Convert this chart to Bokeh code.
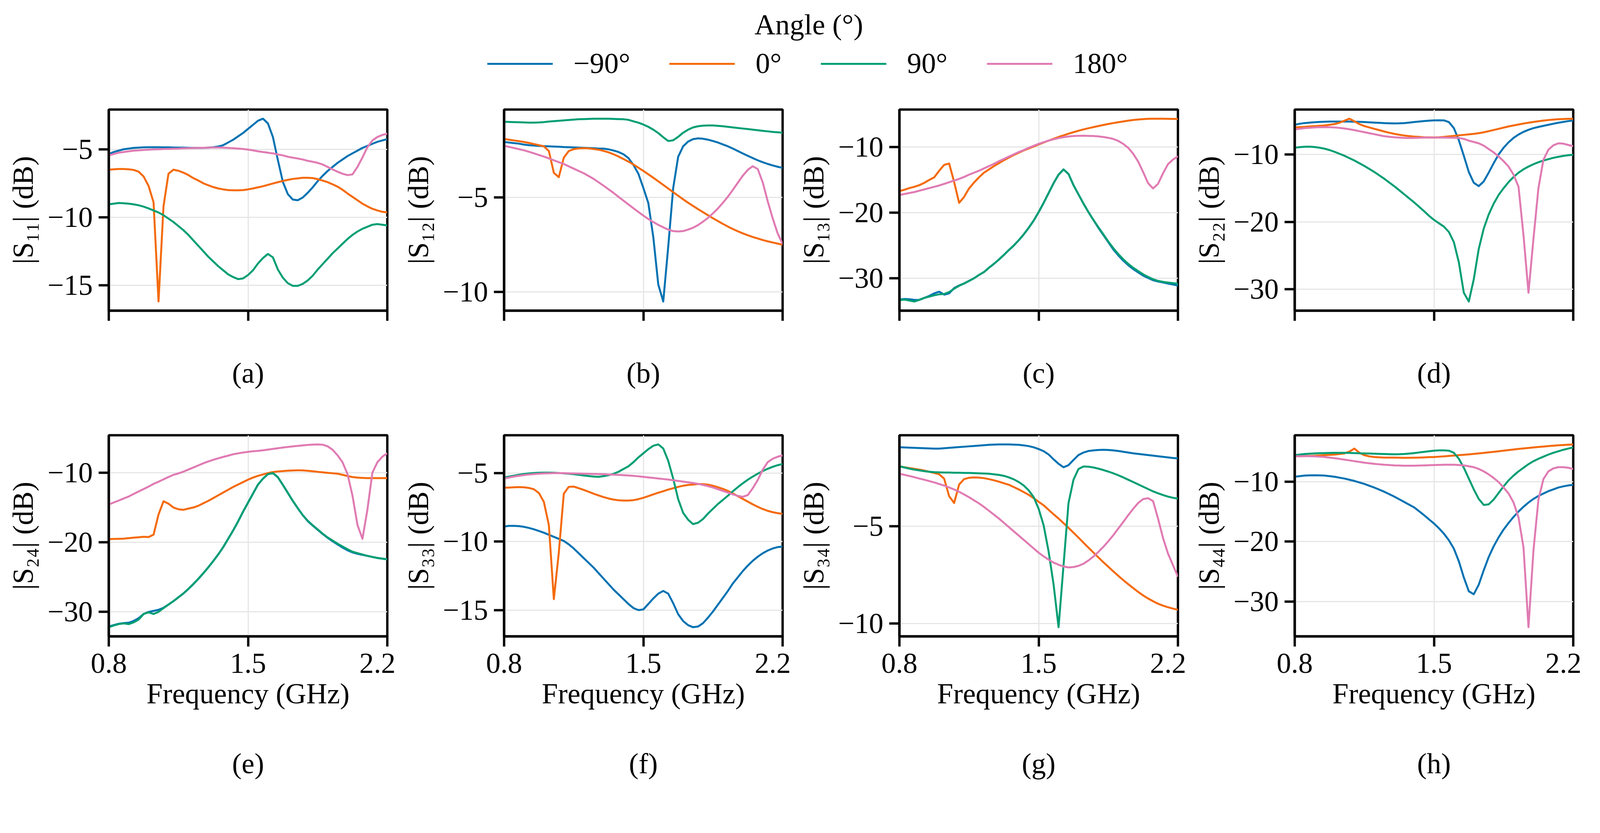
from bokeh.embed import file_html
from bokeh.layouts import column, row
from bokeh.models import FixedTicker, Label, Legend, LegendItem, Range1d
from bokeh.plotting import figure
from bokeh.resources import INLINE

# the page shows up about 5% larger than its CSS size, so every size below
# is given in screenshot pixels and scaled down once here
SCALE = 0.953


def px(v):
    return int(round(v * SCALE))


FONT = "Liberation Serif"
FONT_SIZE = "%dpx" % px(78)

# Frequency grid (GHz) shared by every curve
FREQ = [0.8, 0.825, 0.85, 0.875, 0.9, 0.925, 0.95, 0.975, 1.0, 1.025,
        1.05, 1.075, 1.1, 1.125, 1.15, 1.175, 1.2, 1.225, 1.25, 1.275,
        1.3, 1.325, 1.35, 1.375, 1.4, 1.425, 1.45, 1.475, 1.5, 1.525,
        1.55, 1.575, 1.6, 1.625, 1.65, 1.675, 1.7, 1.725, 1.75, 1.775,
        1.8, 1.825, 1.85, 1.875, 1.9, 1.925, 1.95, 1.975, 2.0, 2.025,
        2.05, 2.075, 2.1, 2.125, 2.15, 2.175, 2.2]

# |S11| (dB)
S11_M90 = [-5.35, -5.2, -5.1, -5.0, -4.95, -4.9, -4.88, -4.86, -4.85, -4.85,
           -4.85, -4.86, -4.86, -4.87, -4.88, -4.88, -4.89, -4.9, -4.9, -4.9,
           -4.88, -4.85, -4.8, -4.7, -4.5, -4.3, -4.05, -3.8, -3.5, -3.2,
           -2.9, -2.75, -3.1, -4.1, -5.8, -7.4, -8.3, -8.7, -8.75, -8.55,
           -8.2, -7.8, -7.35, -6.95, -6.6, -6.3, -6.0, -5.75, -5.5, -5.3,
           -5.1, -4.9, -4.75, -4.6, -4.45, -4.35, -4.25]
S11_0 = [-6.5, -6.47, -6.45, -6.45, -6.47, -6.52, -6.65, -7.0, -7.7, -8.9,
         -16.2, -9.2, -6.8, -6.5, -6.58, -6.72, -6.9, -7.12, -7.3, -7.5,
         -7.65, -7.78, -7.88, -7.95, -8.0, -8.02, -8.02, -8.0, -7.95, -7.88,
         -7.8, -7.72, -7.62, -7.52, -7.42, -7.33, -7.25, -7.18, -7.14, -7.1,
         -7.1, -7.12, -7.2, -7.3, -7.42, -7.58, -7.75, -7.98, -8.25, -8.5,
         -8.75, -9.0, -9.2, -9.38, -9.5, -9.6, -9.65]
S11_90 = [-9.05, -9.0, -8.95, -8.97, -9.0, -9.05, -9.12, -9.22, -9.35, -9.5,
          -9.65, -9.85, -10.1, -10.35, -10.65, -10.95, -11.3, -11.7, -12.1, -12.5,
          -12.9, -13.25, -13.6, -13.9, -14.2, -14.4, -14.55, -14.5, -14.25, -13.9,
          -13.4, -13.0, -12.7, -12.95, -13.85, -14.45, -14.85, -15.05, -15.05, -14.9,
          -14.65, -14.3, -13.85, -13.45, -13.05, -12.65, -12.3, -11.95, -11.6, -11.3,
          -11.05, -10.85, -10.7, -10.55, -10.5, -10.55, -10.6]
S11_180 = [-5.45, -5.35, -5.25, -5.2, -5.15, -5.1, -5.08, -5.05, -5.03, -5.01,
           -5.0, -4.98, -4.97, -4.96, -4.95, -4.93, -4.92, -4.91, -4.9, -4.89,
           -4.88, -4.87, -4.87, -4.88, -4.9, -4.92, -4.95, -4.98, -5.02, -5.08,
           -5.15, -5.2, -5.25, -5.3, -5.38, -5.45, -5.55, -5.62, -5.68, -5.75,
           -5.85, -5.92, -6.0, -6.12, -6.3, -6.48, -6.65, -6.8, -6.9, -6.85,
           -6.3, -5.6, -4.85, -4.35, -4.1, -3.95, -3.85]

# |S12| (dB)
S12_M90 = [-2.07, -2.1, -2.13, -2.16, -2.21, -2.24, -2.26, -2.28, -2.29, -2.3,
           -2.31, -2.32, -2.34, -2.35, -2.36, -2.37, -2.38, -2.39, -2.4, -2.42,
           -2.42, -2.46, -2.52, -2.6, -2.72, -2.92, -3.28, -3.75, -4.5, -5.3,
           -7.1, -9.6, -10.5, -7.6, -4.5, -2.85, -2.3, -2.05, -1.92, -1.88,
           -1.9, -1.95, -2.02, -2.1, -2.2, -2.3, -2.42, -2.55, -2.68, -2.8,
           -2.92, -3.04, -3.14, -3.23, -3.31, -3.38, -3.44]
S12_0 = [-1.91, -1.95, -1.99, -2.03, -2.07, -2.12, -2.18, -2.24, -2.3, -2.55,
         -3.7, -3.93, -2.9, -2.55, -2.45, -2.41, -2.4, -2.41, -2.44, -2.48,
         -2.54, -2.62, -2.72, -2.84, -2.97, -3.11, -3.26, -3.43, -3.6, -3.78,
         -3.96, -4.15, -4.34, -4.53, -4.72, -4.91, -5.1, -5.28, -5.45, -5.62,
         -5.78, -5.94, -6.1, -6.25, -6.4, -6.54, -6.67, -6.79, -6.9, -7.0,
         -7.09, -7.17, -7.25, -7.32, -7.38, -7.44, -7.5]
S12_90 = [-1.0, -1.01, -1.02, -1.03, -1.04, -1.05, -1.05, -1.04, -1.02, -0.99,
          -0.97, -0.95, -0.93, -0.91, -0.89, -0.87, -0.86, -0.85, -0.84, -0.84,
          -0.84, -0.84, -0.85, -0.86, -0.87, -0.9, -0.98, -1.05, -1.15, -1.27,
          -1.42, -1.6, -1.82, -2.02, -1.98, -1.8, -1.58, -1.42, -1.3, -1.24,
          -1.21, -1.2, -1.2, -1.22, -1.24, -1.27, -1.3, -1.33, -1.36, -1.39,
          -1.42, -1.45, -1.48, -1.51, -1.54, -1.56, -1.58]
S12_180 = [-2.27, -2.33, -2.39, -2.45, -2.51, -2.59, -2.67, -2.76, -2.84, -2.94,
           -3.04, -3.14, -3.23, -3.36, -3.48, -3.6, -3.72, -3.87, -4.02, -4.2,
           -4.38, -4.57, -4.76, -4.97, -5.17, -5.37, -5.57, -5.77, -5.96, -6.14,
           -6.3, -6.45, -6.58, -6.7, -6.78, -6.8, -6.78, -6.7, -6.6, -6.46,
           -6.28, -6.08, -5.84, -5.58, -5.28, -4.96, -4.6, -4.22, -3.85, -3.54,
           -3.35, -3.5, -4.2, -5.2, -6.1, -6.9, -7.45]

# |S13| (dB)
S13_M90 = [-33.25, -33.15, -33.2, -33.3, -33.3, -33.0, -32.7, -32.3, -32.05, -32.5,
           -32.3, -31.5, -31.1, -30.8, -30.4, -30.0, -29.5, -29.05, -28.4, -27.8,
           -27.15, -26.45, -25.7, -25.0, -24.2, -23.3, -22.3, -21.2, -19.9, -18.5,
           -17.0, -15.5, -14.2, -13.4, -14.1, -15.8, -17.2, -18.6, -19.9, -21.1,
           -22.3, -23.4, -24.5, -25.6, -26.5, -27.3, -28.0, -28.6, -29.1, -29.6,
           -29.95, -30.3, -30.5, -30.65, -30.8, -30.95, -31.1]
S13_0 = [-16.7, -16.5, -16.25, -16.05, -15.8, -15.45, -15.0, -14.6, -13.6, -12.7,
         -12.5, -15.3, -18.5, -17.6, -16.3, -15.4, -14.6, -13.9, -13.4, -12.9,
         -12.45, -12.0, -11.6, -11.2, -10.85, -10.5, -10.2, -9.9, -9.6, -9.3,
         -9.0, -8.72, -8.45, -8.2, -7.95, -7.72, -7.5, -7.3, -7.12, -6.95,
         -6.78, -6.62, -6.47, -6.33, -6.2, -6.08, -5.96, -5.86, -5.78, -5.72,
         -5.68, -5.66, -5.66, -5.67, -5.68, -5.69, -5.7]
S13_90 = [-33.35, -33.25, -33.4, -33.55, -33.3, -33.0, -32.8, -32.6, -32.45, -32.4,
          -32.1, -31.6, -31.15, -30.8, -30.4, -30.0, -29.5, -29.05, -28.4, -27.8,
          -27.15, -26.45, -25.7, -25.0, -24.2, -23.3, -22.3, -21.2, -19.9, -18.5,
          -17.0, -15.5, -14.2, -13.4, -14.1, -15.8, -17.2, -18.6, -19.9, -21.1,
          -22.2, -23.3, -24.4, -25.4, -26.3, -27.1, -27.8, -28.4, -28.9, -29.4,
          -29.8, -30.15, -30.4, -30.55, -30.65, -30.75, -30.85]
S13_180 = [-17.3, -17.15, -17.0, -16.85, -16.65, -16.45, -16.25, -16.05, -15.85, -15.6,
           -15.35, -15.1, -14.85, -14.55, -14.2, -13.9, -13.6, -13.25, -12.9, -12.55,
           -12.15, -11.8, -11.45, -11.1, -10.75, -10.45, -10.1, -9.8, -9.5, -9.25,
           -9.0, -8.8, -8.62, -8.48, -8.38, -8.3, -8.27, -8.26, -8.28, -8.3,
           -8.36, -8.45, -8.58, -8.75, -9.05, -9.5, -10.1, -11.0, -12.2, -13.8,
           -15.5, -16.3, -15.6, -14.0, -12.6, -11.9, -11.4]

# |S22| (dB)
S22_M90 = [-5.6, -5.45, -5.35, -5.28, -5.22, -5.18, -5.15, -5.13, -5.12, -5.12,
           -5.12, -5.13, -5.15, -5.17, -5.2, -5.24, -5.28, -5.32, -5.36, -5.38,
           -5.4, -5.39, -5.35, -5.28, -5.2, -5.12, -5.05, -5.0, -4.95, -4.93,
           -4.95, -5.2, -6.1, -7.9, -10.2, -12.6, -14.2, -14.7, -14.0, -12.7,
           -11.3, -10.0, -9.0, -8.2, -7.55, -7.05, -6.65, -6.35, -6.1, -5.92,
           -5.76, -5.6, -5.45, -5.3, -5.18, -5.06, -4.96]
S22_0 = [-6.0, -5.95, -5.9, -5.85, -5.8, -5.75, -5.7, -5.6, -5.5, -5.3,
         -5.0, -4.7, -5.1, -5.5, -5.8, -6.0, -6.2, -6.4, -6.6, -6.78,
         -6.95, -7.08, -7.2, -7.28, -7.35, -7.4, -7.45, -7.47, -7.48, -7.45,
         -7.4, -7.33, -7.25, -7.17, -7.1, -7.02, -6.95, -6.85, -6.72, -6.55,
         -6.38, -6.2, -6.02, -5.85, -5.7, -5.56, -5.42, -5.3, -5.18, -5.08,
         -4.98, -4.9, -4.83, -4.78, -4.75, -4.72, -4.7]
S22_90 = [-9.0, -8.92, -8.86, -8.85, -8.9, -9.0, -9.15, -9.35, -9.6, -9.9,
          -10.2, -10.55, -10.9, -11.3, -11.7, -12.15, -12.6, -13.1, -13.6, -14.15,
          -14.7, -15.3, -15.9, -16.5, -17.1, -17.75, -18.4, -19.1, -19.7, -20.2,
          -20.7, -21.5, -23.0, -26.0, -30.5, -31.8, -28.5, -24.0, -21.0, -18.9,
          -17.3, -16.0, -15.0, -14.1, -13.35, -12.7, -12.2, -11.8, -11.45, -11.15,
          -10.9, -10.7, -10.5, -10.35, -10.22, -10.12, -10.05]
S22_180 = [-6.3, -6.2, -6.1, -6.05, -6.0, -5.97, -5.95, -5.96, -6.0, -6.07,
           -6.15, -6.27, -6.4, -6.55, -6.7, -6.85, -7.0, -7.15, -7.3, -7.38,
           -7.45, -7.5, -7.55, -7.56, -7.55, -7.53, -7.5, -7.5, -7.5, -7.5,
           -7.5, -7.51, -7.52, -7.55, -7.7, -7.95, -8.15, -8.35, -8.7, -9.2,
           -9.7, -10.3, -11.0, -11.8, -13.0, -14.8, -22.0, -30.5, -22.5, -15.0,
           -10.8, -9.3, -8.65, -8.35, -8.4, -8.6, -8.77]

# |S24| (dB)
S24_M90 = [-32.1, -31.9, -31.7, -31.6, -31.55, -31.3, -30.9, -30.3, -30.0, -29.85,
           -29.7, -29.4, -28.95, -28.45, -27.9, -27.35, -26.7, -26.0, -25.25, -24.45,
           -23.6, -22.7, -21.75, -20.7, -19.5, -18.3, -17.0, -15.6, -14.3, -13.0,
           -11.7, -10.85, -10.2, -10.05, -10.65, -11.75, -12.9, -14.05, -15.1, -16.1,
           -16.95, -17.6, -18.2, -18.8, -19.35, -19.85, -20.3, -20.75, -21.15, -21.45,
           -21.65, -21.8, -21.95, -22.1, -22.25, -22.35, -22.45]
S24_0 = [-19.54, -19.52, -19.5, -19.47, -19.4, -19.33, -19.27, -19.2, -19.25, -18.9,
         -16.0, -14.1, -14.45, -15.0, -15.25, -15.33, -15.15, -15.0, -14.75, -14.4,
         -14.05, -13.65, -13.25, -12.85, -12.45, -12.05, -11.7, -11.35, -11.0, -10.7,
         -10.45, -10.25, -10.05, -9.9, -9.82, -9.76, -9.71, -9.68, -9.65, -9.66,
         -9.72, -9.79, -9.87, -9.95, -10.02, -10.08, -10.14, -10.3, -10.48, -10.62,
         -10.7, -10.74, -10.77, -10.78, -10.78, -10.78, -10.78]
S24_90 = [-32.2, -31.95, -31.75, -31.65, -31.75, -31.5, -31.1, -30.3, -30.05, -30.3,
          -30.0, -29.45, -28.95, -28.45, -27.9, -27.35, -26.7, -26.0, -25.25, -24.45,
          -23.6, -22.7, -21.75, -20.7, -19.5, -18.3, -17.0, -15.6, -14.3, -13.0,
          -11.7, -10.85, -10.2, -10.05, -10.65, -11.75, -12.9, -14.05, -15.1, -16.1,
          -16.9, -17.55, -18.15, -18.75, -19.3, -19.75, -20.2, -20.6, -21.0, -21.35,
          -21.55, -21.75, -21.95, -22.1, -22.25, -22.35, -22.45]
S24_180 = [-14.56, -14.28, -14.0, -13.7, -13.42, -13.05, -12.7, -12.35, -12.0, -11.6,
           -11.3, -10.95, -10.62, -10.3, -10.1, -9.85, -9.55, -9.25, -8.95, -8.65,
           -8.38, -8.15, -7.93, -7.73, -7.55, -7.35, -7.22, -7.1, -7.0, -6.92,
           -6.86, -6.78, -6.68, -6.58, -6.48, -6.38, -6.3, -6.22, -6.14, -6.07,
           -6.01, -5.96, -5.93, -5.97, -6.21, -6.7, -7.5, -8.5, -10.2, -13.3,
           -17.5, -19.5, -15.3, -10.0, -8.5, -7.7, -7.2]

# |S33| (dB)
S33_M90 = [-8.9, -8.85, -8.85, -8.87, -8.92, -9.0, -9.1, -9.22, -9.35, -9.5,
           -9.65, -9.8, -9.95, -10.2, -10.5, -10.85, -11.2, -11.55, -11.9, -12.3,
           -12.7, -13.1, -13.5, -13.85, -14.2, -14.55, -14.85, -15.0, -14.95, -14.55,
           -14.15, -13.8, -13.6, -13.8, -14.5, -15.3, -15.8, -16.1, -16.25, -16.2,
           -15.95, -15.55, -15.1, -14.6, -14.1, -13.6, -13.05, -12.6, -12.15, -11.75,
           -11.4, -11.1, -10.85, -10.65, -10.5, -10.4, -10.36]
S33_0 = [-6.07, -6.05, -6.03, -6.02, -6.03, -6.08, -6.18, -6.45, -7.1, -8.8,
         -14.2, -10.8, -6.5, -6.0, -5.98, -6.1, -6.22, -6.36, -6.5, -6.63,
         -6.75, -6.85, -6.93, -6.98, -7.0, -7.0, -6.97, -6.9, -6.8, -6.68,
         -6.55, -6.43, -6.32, -6.2, -6.1, -6.0, -5.92, -5.86, -5.83, -5.8,
         -5.8, -5.84, -5.92, -6.03, -6.15, -6.3, -6.48, -6.68, -6.88, -7.08,
         -7.28, -7.46, -7.62, -7.75, -7.85, -7.92, -7.97]
S33_90 = [-5.32, -5.25, -5.18, -5.12, -5.06, -5.02, -4.99, -4.97, -4.96, -4.96,
          -4.97, -4.99, -5.01, -5.04, -5.08, -5.12, -5.17, -5.21, -5.25, -5.27,
          -5.22, -5.15, -5.05, -4.9, -4.7, -4.5, -4.2, -3.85, -3.55, -3.25,
          -3.0, -2.9, -3.2, -4.1, -5.4, -6.9, -7.9, -8.4, -8.72, -8.62,
          -8.35, -7.95, -7.6, -7.25, -6.95, -6.65, -6.32, -6.02, -5.74, -5.48,
          -5.25, -5.04, -4.85, -4.68, -4.54, -4.42, -4.33]
S33_180 = [-5.4, -5.32, -5.25, -5.19, -5.14, -5.1, -5.07, -5.04, -5.02, -5.01,
           -5.0, -5.0, -5.0, -5.01, -5.02, -5.03, -5.04, -5.05, -5.06, -5.07,
           -5.08, -5.1, -5.11, -5.13, -5.15, -5.17, -5.2, -5.23, -5.27, -5.31,
           -5.35, -5.39, -5.43, -5.47, -5.52, -5.57, -5.62, -5.67, -5.72, -5.78,
           -5.86, -5.95, -6.05, -6.17, -6.3, -6.42, -6.55, -6.66, -6.73, -6.6,
           -6.1, -5.5, -4.75, -4.2, -3.95, -3.8, -3.7]

# |S34| (dB)
S34_M90 = [-0.93, -0.94, -0.95, -0.96, -0.97, -0.98, -0.99, -1.0, -1.0, -0.98,
           -0.96, -0.94, -0.92, -0.9, -0.88, -0.86, -0.84, -0.82, -0.8, -0.79,
           -0.78, -0.78, -0.78, -0.79, -0.8, -0.83, -0.87, -0.93, -1.02, -1.13,
           -1.3, -1.55, -1.78, -1.96, -1.85, -1.58, -1.33, -1.2, -1.12, -1.09,
           -1.07, -1.06, -1.07, -1.09, -1.12, -1.16, -1.2, -1.24, -1.27, -1.3,
           -1.33, -1.36, -1.39, -1.42, -1.45, -1.48, -1.5]
S34_0 = [-1.91, -1.96, -2.0, -2.04, -2.08, -2.13, -2.19, -2.25, -2.32, -2.55,
         -3.45, -3.8, -2.85, -2.57, -2.5, -2.48, -2.49, -2.52, -2.57, -2.63,
         -2.7, -2.78, -2.86, -2.98, -3.1, -3.24, -3.38, -3.55, -3.74, -3.92,
         -4.15, -4.38, -4.6, -4.84, -5.08, -5.33, -5.58, -5.84, -6.1, -6.35,
         -6.6, -6.85, -7.08, -7.32, -7.55, -7.77, -7.98, -8.18, -8.38, -8.56,
         -8.72, -8.86, -8.99, -9.09, -9.17, -9.24, -9.3]
S34_90 = [-1.91, -1.97, -2.03, -2.08, -2.12, -2.16, -2.19, -2.21, -2.22, -2.23,
          -2.23, -2.24, -2.24, -2.25, -2.25, -2.26, -2.27, -2.28, -2.29, -2.32,
          -2.35, -2.4, -2.48, -2.58, -2.72, -2.9, -3.15, -3.5, -4.1, -4.95,
          -6.3, -8.0, -10.2, -7.0, -3.8, -2.6, -2.05, -1.92, -1.93, -1.97,
          -2.03, -2.1, -2.18, -2.27, -2.37, -2.48, -2.6, -2.72, -2.84, -2.96,
          -3.08, -3.2, -3.3, -3.39, -3.47, -3.53, -3.58]
S34_180 = [-2.29, -2.35, -2.41, -2.47, -2.54, -2.6, -2.67, -2.74, -2.82, -2.9,
           -3.0, -3.1, -3.22, -3.36, -3.5, -3.66, -3.82, -4.0, -4.2, -4.4,
           -4.6, -4.82, -5.04, -5.26, -5.48, -5.7, -5.92, -6.14, -6.36, -6.55,
           -6.72, -6.87, -6.98, -7.07, -7.12, -7.1, -7.04, -6.93, -6.76, -6.56,
           -6.32, -6.06, -5.77, -5.46, -5.12, -4.78, -4.43, -4.1, -3.8, -3.6,
           -3.55, -3.7, -4.6, -5.6, -6.4, -7.0, -7.6]

# |S44| (dB)
S44_M90 = [-9.2, -9.1, -9.0, -8.97, -8.95, -8.97, -9.0, -9.1, -9.2, -9.35,
           -9.5, -9.7, -9.9, -10.15, -10.4, -10.7, -11.0, -11.35, -11.7, -12.1,
           -12.5, -12.95, -13.4, -13.85, -14.3, -14.95, -15.6, -16.3, -17.0, -17.8,
           -18.7, -19.8, -21.2, -23.3, -26.0, -28.3, -28.8, -27.2, -24.8, -22.6,
           -20.8, -19.3, -18.0, -16.9, -15.9, -15.0, -14.2, -13.5, -12.9, -12.4,
           -12.0, -11.6, -11.3, -11.0, -10.8, -10.65, -10.55]
S44_0 = [-5.8, -5.78, -5.75, -5.72, -5.7, -5.65, -5.6, -5.55, -5.5, -5.4,
         -5.3, -5.0, -4.5, -5.2, -5.6, -5.8, -5.9, -5.95, -6.0, -6.0,
         -6.0, -6.02, -6.03, -6.03, -6.02, -6.0, -5.97, -5.93, -5.9, -5.85,
         -5.8, -5.73, -5.66, -5.6, -5.53, -5.46, -5.38, -5.3, -5.22, -5.13,
         -5.04, -4.95, -4.85, -4.75, -4.65, -4.56, -4.47, -4.39, -4.31, -4.23,
         -4.16, -4.09, -4.02, -3.96, -3.9, -3.85, -3.8]
S44_90 = [-5.6, -5.5, -5.4, -5.35, -5.3, -5.27, -5.25, -5.23, -5.2, -5.2,
          -5.2, -5.22, -5.25, -5.28, -5.3, -5.32, -5.35, -5.38, -5.4, -5.43,
          -5.45, -5.44, -5.4, -5.33, -5.25, -5.15, -5.05, -4.95, -4.85, -4.8,
          -4.8, -4.85, -5.2, -6.2, -7.7, -9.5, -11.3, -12.9, -13.9, -13.8,
          -13.0, -11.9, -10.8, -9.8, -9.0, -8.3, -7.7, -7.1, -6.6, -6.2,
          -5.85, -5.5, -5.2, -4.95, -4.7, -4.5, -4.3]
S44_180 = [-5.8, -5.77, -5.75, -5.77, -5.8, -5.85, -5.9, -6.0, -6.1, -6.22,
           -6.35, -6.47, -6.6, -6.72, -6.85, -6.95, -7.05, -7.12, -7.2, -7.25,
           -7.3, -7.33, -7.35, -7.35, -7.35, -7.33, -7.3, -7.28, -7.25, -7.22,
           -7.2, -7.2, -7.2, -7.25, -7.3, -7.45, -7.6, -7.9, -8.3, -8.8,
           -9.4, -10.1, -11.0, -12.0, -13.5, -16.0, -21.0, -34.3, -21.5, -13.0,
           -9.6, -8.3, -7.8, -7.6, -7.6, -7.7, -7.9]

ANGLES = ["−90°", "0°", "90°", "180°"]
COLOURS = ["#0072B2", "#F46A0B", "#009E73", "#E07BB3"]
X_TICKS = [0.8, 1.5, 2.2]

PANELS = [
    ("(a)", "|S₁₁| (dB)", [S11_M90, S11_0, S11_90, S11_180], [-15, -10, -5]),
    ("(b)", "|S₁₂| (dB)", [S12_M90, S12_0, S12_90, S12_180], [-10, -5]),
    ("(c)", "|S₁₃| (dB)", [S13_M90, S13_0, S13_90, S13_180], [-30, -20, -10]),
    ("(d)", "|S₂₂| (dB)", [S22_M90, S22_0, S22_90, S22_180], [-30, -20, -10]),
    ("(e)", "|S₂₄| (dB)", [S24_M90, S24_0, S24_90, S24_180], [-30, -20, -10]),
    ("(f)", "|S₃₃| (dB)", [S33_M90, S33_0, S33_90, S33_180], [-15, -10, -5]),
    ("(g)", "|S₃₄| (dB)", [S34_M90, S34_0, S34_90, S34_180], [-10, -5]),
    ("(h)", "|S₄₄| (dB)", [S44_M90, S44_0, S44_90, S44_180], [-30, -20, -10]),
]

PANEL_W = px(1062)
FRAME_W = px(748)
FRAME_H = px(540)
LEFT = px(292)
TOP = px(40)


def style_axis(ax):
    ax.axis_line_color = "black"
    ax.axis_line_width = px(6)
    ax.major_tick_line_color = "black"
    ax.major_tick_line_width = px(6)
    ax.major_tick_in = 0
    ax.major_tick_out = px(27)
    ax.minor_tick_line_color = None
    ax.major_label_text_font = FONT
    ax.major_label_text_font_size = FONT_SIZE
    ax.major_label_text_color = "black"
    ax.axis_label_text_font = FONT
    ax.axis_label_text_font_size = FONT_SIZE
    ax.axis_label_text_font_style = "normal"
    ax.axis_label_text_color = "black"


def make_panel(ylabel, curves, yticks, bottom_row):
    bottom = px(270) if bottom_row else px(120)
    p = figure(width=PANEL_W, height=TOP + FRAME_H + bottom, x_range=Range1d(0.8, 2.2),
               toolbar_location=None, tools="", output_backend="svg",
               min_border_left=LEFT, min_border_right=PANEL_W - FRAME_W - LEFT,
               min_border_top=TOP, min_border_bottom=bottom)
    p.outline_line_color = "black"
    p.outline_line_width = px(6)
    p.outline_line_alpha = 1

    for ys, colour in zip(curves, COLOURS):
        p.line(FREQ, ys, line_color=colour, line_width=px(5), line_join="round")

    p.grid.grid_line_color = "#e6e6e6"
    p.grid.grid_line_width = px(3)

    p.xaxis.ticker = FixedTicker(ticks=X_TICKS)
    p.yaxis.ticker = FixedTicker(ticks=yticks)
    p.yaxis.major_label_overrides = {t: "−%d" % -t for t in yticks}
    p.yaxis.axis_label = ylabel
    p.yaxis.major_label_standoff = px(16)
    p.yaxis.axis_label_standoff = px(20)
    style_axis(p.xaxis[0])
    style_axis(p.yaxis[0])

    if bottom_row:
        p.xaxis.axis_label = "Frequency (GHz)"
        p.xaxis.major_label_standoff = px(19)
        p.xaxis.axis_label_standoff = px(9)
    else:
        # top row keeps the tick marks but shows no numbers
        p.xaxis.major_label_overrides = {t: "" for t in X_TICKS}
        p.xaxis.major_label_text_font_size = "0px"
    return p


def blank_strip(height):
    s = figure(width=4 * PANEL_W, height=height, x_range=Range1d(0, 1), y_range=Range1d(0, 1),
               x_axis_location=None, y_axis_location=None, toolbar_location=None, tools="",
               output_backend="svg", min_border=0, outline_line_color=None)
    s.grid.visible = False
    return s


def caption_strip(captions, height, y_mid):
    s = blank_strip(height)
    for i, cap in enumerate(captions):
        s.add_layout(Label(x=i * PANEL_W + LEFT + FRAME_W / 2, y=y_mid,
                           x_units="screen", y_units="screen", text=cap,
                           text_align="center", text_baseline="middle",
                           text_font=FONT, text_font_size=FONT_SIZE, text_color="black"))
    return s


# legend strip on top
leg = blank_strip(px(254))
items = []
for name, colour in zip(ANGLES, COLOURS):
    r = leg.line([0.5], [0.5], line_color=colour, line_width=px(5))
    items.append(LegendItem(label=name, renderers=[r]))
legend = Legend(items=items, location=(px(1309), px(39)), orientation="horizontal",
                label_text_font=FONT, label_text_font_size=FONT_SIZE, label_text_color="black",
                glyph_width=px(176), glyph_height=px(40), label_standoff=px(56),
                spacing=px(105), padding=0, margin=0,
                border_line_color=None, background_fill_alpha=0)
leg.add_layout(legend)
leg.add_layout(Label(x=px(2172), y=px(189), x_units="screen", y_units="screen",
                     text="Angle (°)", text_align="center", text_baseline="middle",
                     text_font=FONT, text_font_size=FONT_SIZE, text_color="black"))

top = [make_panel(*PANELS[i][1:], bottom_row=False) for i in range(4)]
bot = [make_panel(*PANELS[i][1:], bottom_row=True) for i in range(4, 8)]
cap_top = caption_strip([PANELS[i][0] for i in range(4)], px(175), px(128))
cap_bot = caption_strip([PANELS[i][0] for i in range(4, 8)], px(138), px(67))

layout = column(leg, row(*top), cap_top, row(*bot), cap_bot)

open("out.html", "w", encoding="utf-8").write(file_html(layout, INLINE))
